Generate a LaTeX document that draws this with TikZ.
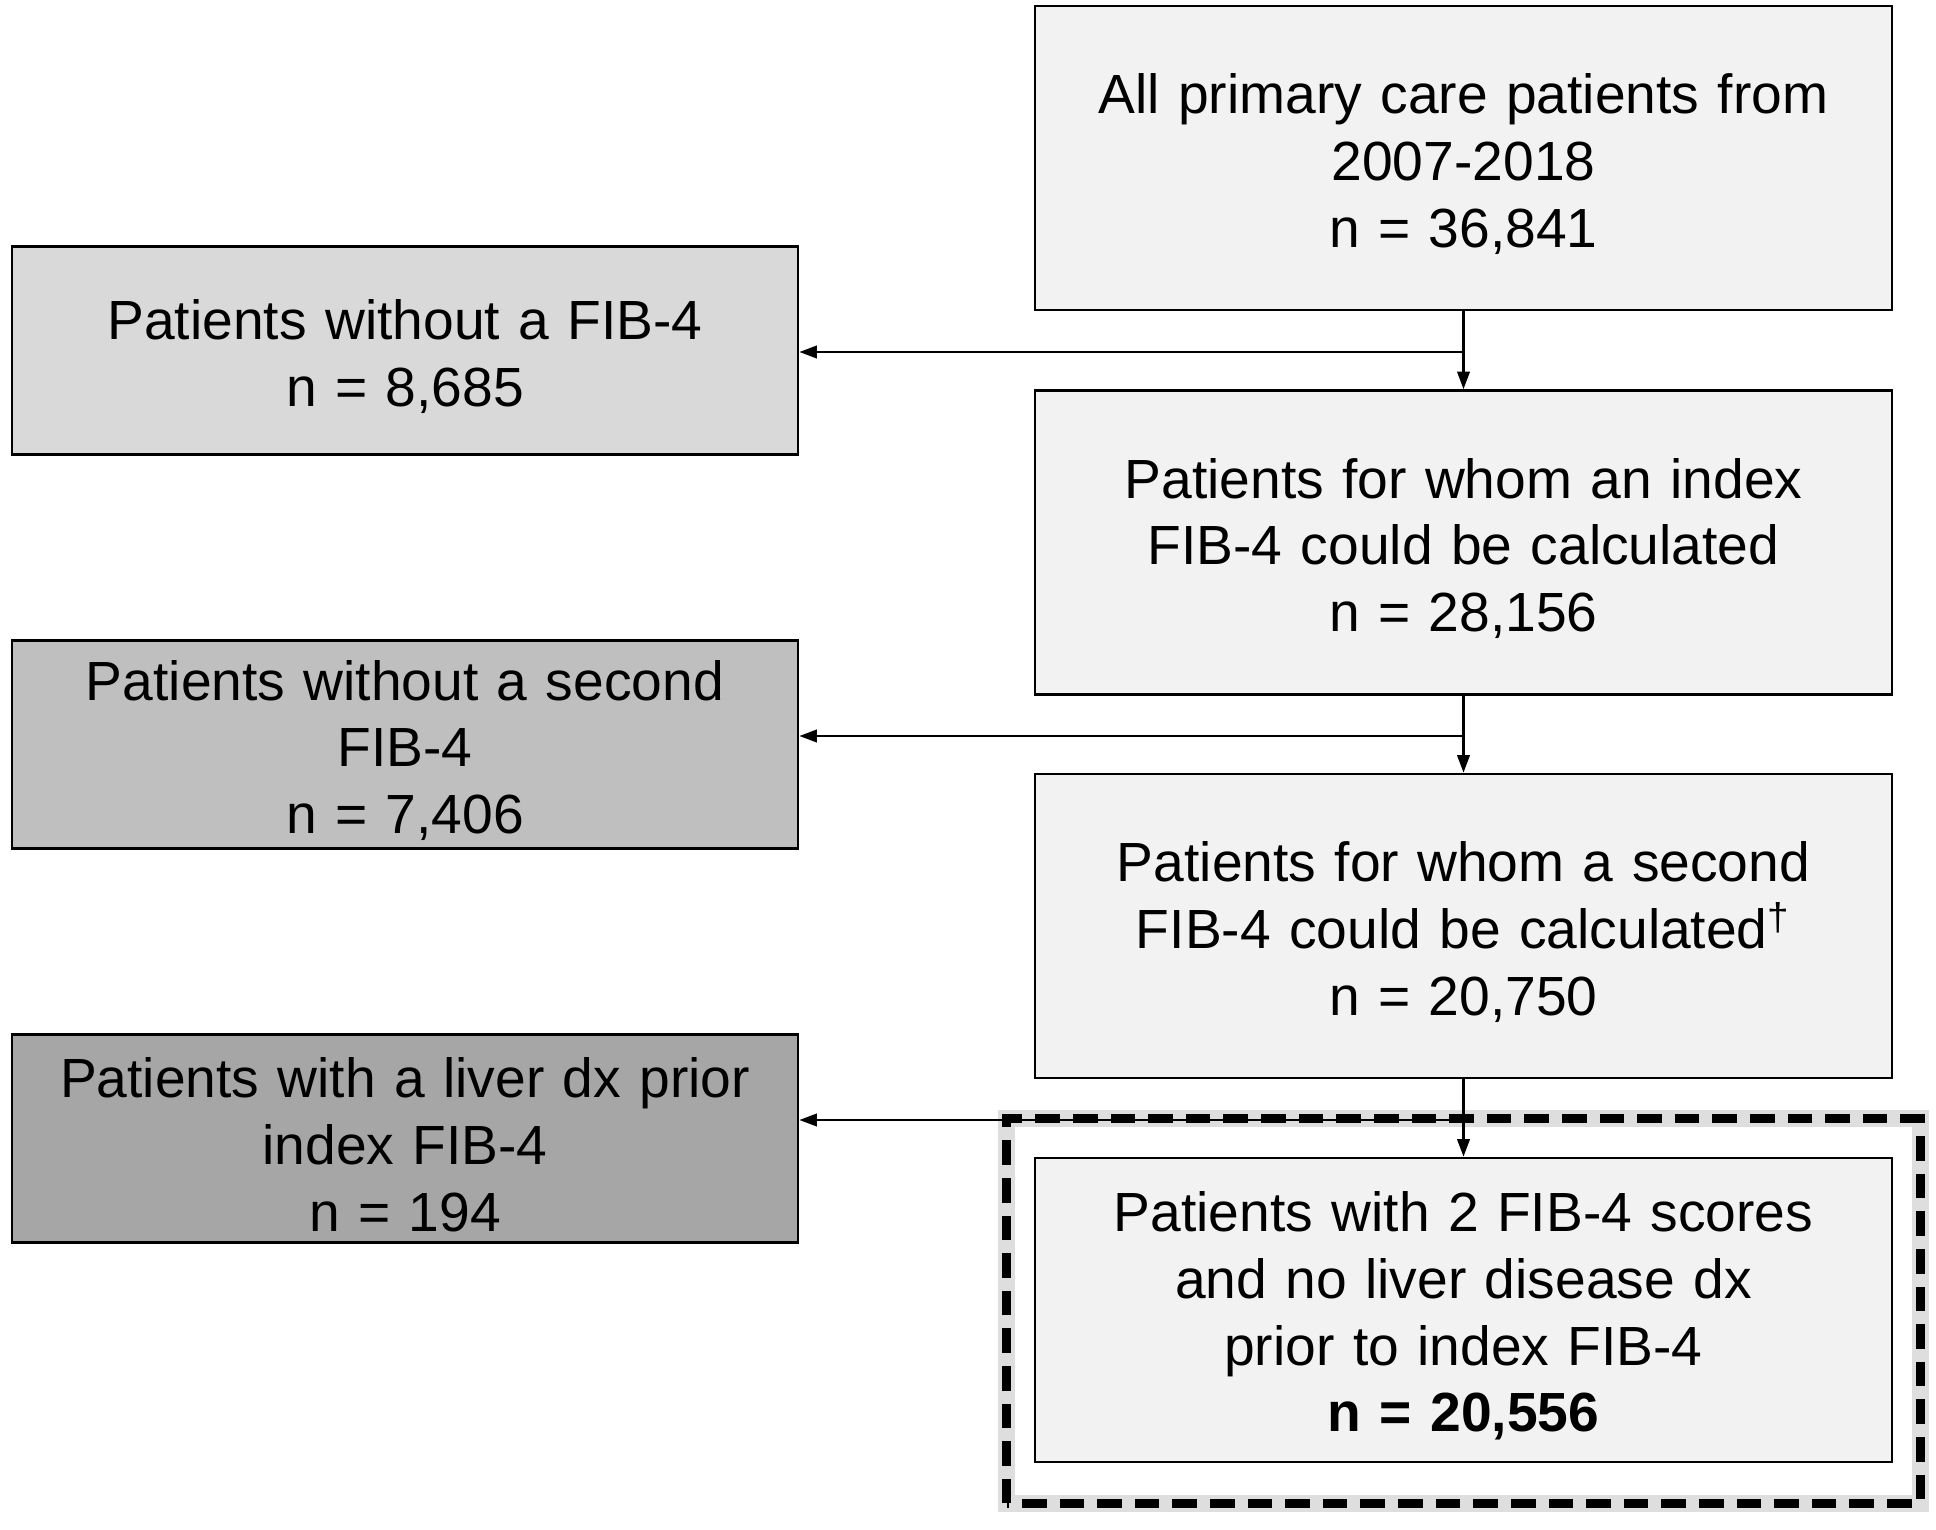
\documentclass[tikz,border=0pt]{standalone}
\usepackage{fontspec}
\setmainfont{Liberation Sans}
\usetikzlibrary{arrows.meta,calc}

\definecolor{boxlight}{HTML}{F2F2F2}
\definecolor{grayA}{HTML}{D9D9D9}
\definecolor{grayB}{HTML}{BFBFBF}
\definecolor{grayC}{HTML}{A6A6A6}

\tikzset{
  flowbox/.style={draw, line width=0.8pt, align=center, inner xsep=0.2cm, inner ysep=0pt,
    font=\fontsize{15.7}{19}\selectfont, execute at end node={\par\vspace*{-0.12cm}}},
  mainbox/.style={flowbox, fill=boxlight, text width=8.17cm, minimum height=3.04cm},
  exclbox/.style={flowbox, text width=7.46cm, minimum height=2.08cm},
  flowarrow/.style={-{Triangle[length=5pt, width=3.6pt]}, line width=0.6pt}
}

\begin{document}
\begin{tikzpicture}
  \useasboundingbox (0,0) rectangle (19.36,-15.30);

  \node[mainbox] (all) at (14.635,-1.58)
    {All primary care patients from\\2007-2018\\n = 36,841};
  \node[mainbox] (index) at (14.635,-5.425)
    {Patients for whom an index\\FIB-4 could be calculated\\n = 28,156};
  \node[mainbox] (second) at (14.635,-9.26)
    {Patients for whom a second\\FIB-4 could be calculated\textsuperscript{\dag}\\n = 20,750};
  \node[mainbox] (final) at (14.635,-13.10)
    {Patients with 2 FIB-4 scores\\and no liver disease dx\\prior to index FIB-4\\\textbf{n = 20,556}};

  \node[exclbox, fill=grayA] (nofib) at (4.05,-3.505)
    {Patients without a FIB-4\\n = 8,685};
  \node[exclbox, fill=grayB] (nosecond) at (4.05,-7.445)
    {Patients without a second\\FIB-4\\n = 7,406};
  \node[exclbox, fill=grayC] (liver) at (4.05,-11.385)
    {Patients with a liver dx prior\\index FIB-4\\n = 194};

  \draw[line width=5pt, black!13] ($(final.south west)+(-0.27,-0.4)$) rectangle ($(final.north east)+(0.27,0.38)$);
  \draw[line width=2.6pt, dash pattern=on 7pt off 3.7pt] ($(final.south west)+(-0.27,-0.4)$) rectangle ($(final.north east)+(0.27,0.38)$);

  \foreach \up/\down/\side/\y in {all/index/nofib/-3.52, index/second/nosecond/-7.36, second/final/liver/-11.20} {
    \coordinate (j\side) at (14.635,\y);
    \draw[flowarrow] (\up) -- (\down);
    \draw[flowarrow] (j\side) -- (\side.east |- j\side);
  }
\end{tikzpicture}
\end{document}
